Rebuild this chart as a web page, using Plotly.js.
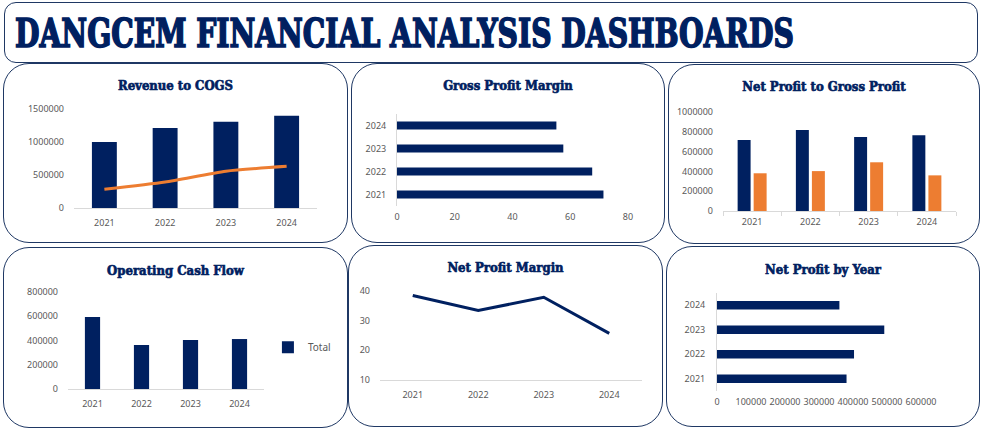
<!DOCTYPE html>
<html>
<head>
<meta charset="utf-8">
<script src="https://cdn.plot.ly/plotly-3.0.1.min.js"></script>
<style>
  body { margin: 0; background: #fff; width: 987px; height: 435px; overflow: hidden; position: relative; }
  .box { position: absolute; box-sizing: border-box; border: 1.5px solid #1f3864; border-radius: 26px; background: #fff; }
  .plot { position: absolute; }
  #head { border-radius: 12px; }
  #headText { position: absolute; left: 15px; top: 9px; font-family: 'DejaVu Serif Condensed', 'DejaVu Serif', serif; font-weight: bold; font-size: 40px; line-height: 48px; color: #002060; -webkit-text-stroke: 1.6px #002060; white-space: nowrap; transform-origin: 0 0; }
  .gtitle { stroke: #002060; stroke-width: 0.6px; }
</style>
</head>
<body>
<div class="box" id="head" style="left:4px;top:2px;width:974px;height:61px;"></div>
<div id="headText">DANGCEM FINANCIAL ANALYSIS DASHBOARDS</div>

<div class="box" style="left:3px;top:63px;width:345px;height:180px;"></div>
<div class="box" style="left:351px;top:63px;width:314px;height:180px;"></div>
<div class="box" style="left:668px;top:64px;width:312px;height:180px;"></div>
<div class="box" style="left:3px;top:247px;width:345px;height:181px;"></div>
<div class="box" style="left:348px;top:245px;width:315px;height:182px;"></div>
<div class="box" style="left:666px;top:246px;width:314px;height:181px;"></div>

<div class="plot" id="revenue" style="left:3px;top:63px;width:345px;height:180px;"></div>
<div class="plot" id="gross" style="left:351px;top:63px;width:314px;height:180px;"></div>
<div class="plot" id="netgross" style="left:668px;top:64px;width:312px;height:180px;"></div>
<div class="plot" id="cash" style="left:3px;top:247px;width:345px;height:181px;"></div>
<div class="plot" id="margin" style="left:348px;top:245px;width:315px;height:182px;"></div>
<div class="plot" id="netyear" style="left:666px;top:246px;width:314px;height:181px;"></div>

<script>
// values
var years = ['2021', '2022', '2023', '2024'];
var revenue = [1000000, 1213000, 1305000, 1397000];
var cogs = [284000, 394000, 558000, 631000];
var grossProfit = [716000, 817000, 747000, 766000];
var netProfit = [381000, 403000, 492000, 360000];
var grossMargin = [71.5, 67.6, 57.6, 55.2];
var netMargin = [38.5, 33.4, 37.9, 25.7];
var cashFlow = [593000, 363000, 404000, 412000];

var navy = '#002060';
var orange = '#ed7d31';
var tickFont = {family: 'Noto Sans, sans-serif', size: 9, color: '#595959'};
var config = {staticPlot: true, displayModeBar: false};

// fit the big heading to its width in the reference
var head = document.getElementById('headText');
head.style.transform = 'scaleX(' + (779 / head.offsetWidth) + ')';

function title(text, y) {
  return {
    text: text, x: 0.5, xanchor: 'center', y: y, yanchor: 'middle', yref: 'container',
    font: {family: 'DejaVu Serif Condensed, DejaVu Serif, serif', weight: 'bold', size: 13, color: navy}
  };
}

function base(t, margin) {
  return {
    title: t,
    margin: margin,
    paper_bgcolor: 'rgba(0,0,0,0)',
    plot_bgcolor: 'rgba(0,0,0,0)',
    showlegend: false,
    font: tickFont
  };
}

/***** revenue to cogs *****/
var layout = base(title('Revenue to COGS', 0.874), {l: 71, r: 31, t: 46, b: 35});
layout.bargap = 0.59;
layout.xaxis = {type: 'category', showline: true, linecolor: '#d9d9d9', linewidth: 1, ticks: '', showgrid: false, tickfont: tickFont, ticklabelstandoff: 6};
layout.yaxis = {range: [0, 1500000], dtick: 500000, showgrid: false, zeroline: false, showline: false, tickformat: 'd', tickfont: tickFont, ticklabelstandoff: 9};
Plotly.newPlot('revenue', [
  {x: years, y: revenue, type: 'bar', name: 'Revenue', marker: {color: navy}},
  {x: years, y: cogs, type: 'scatter', mode: 'lines', name: 'COGS', line: {color: orange, width: 3, shape: 'spline', smoothing: 0.6}}
], layout, config);

/***** gross profit margin *****/
layout = base(title('Gross Profit Margin', 0.878), {l: 46, r: 37, t: 51, b: 37});
layout.bargap = 0.65;
layout.xaxis = {range: [0, 80], dtick: 20, showgrid: false, zeroline: false, showline: false, tickfont: tickFont, ticklabelstandoff: 4};
layout.yaxis = {type: 'category', showline: true, linecolor: '#d9d9d9', linewidth: 1, ticks: '', showgrid: false, tickfont: tickFont, ticklabelstandoff: 8};
Plotly.newPlot('gross', [
  {x: grossMargin, y: years, type: 'bar', orientation: 'h', marker: {color: navy}}
], layout, config);

/***** net profit to gross profit *****/
layout = base(title('Net Profit to Gross Profit', 0.874), {l: 55, r: 24, t: 48, b: 33});
layout.bargap = 0.45;
layout.bargroupgap = 0.19;
layout.barmode = 'group';
layout.xaxis = {type: 'category', showline: true, linecolor: '#d9d9d9', linewidth: 1, ticks: 'outside', tickson: 'boundaries', ticklen: 4, tickcolor: '#d9d9d9', showgrid: false, tickfont: tickFont, ticklabelstandoff: 2};
layout.yaxis = {range: [0, 1000000], dtick: 200000, showgrid: false, zeroline: false, showline: false, tickformat: 'd', tickfont: tickFont, ticklabelstandoff: 9};
Plotly.newPlot('netgross', [
  {x: years, y: grossProfit, type: 'bar', name: 'Gross Profit', marker: {color: navy}},
  {x: years, y: netProfit, type: 'bar', name: 'Net Profit', marker: {color: orange}}
], layout, config);

/***** operating cash flow *****/
layout = base(title('Operating Cash Flow', 0.873), {l: 65, r: 75, t: 45, b: 39});
layout.bargap = 0.69;
layout.showlegend = true;
layout.legend = {x: 1.02, xanchor: 'left', y: 0.43, yanchor: 'middle', font: {family: 'Noto Sans, sans-serif', size: 10, color: '#595959'}, itemwidth: 30};
layout.xaxis = {type: 'category', showline: true, linecolor: '#d9d9d9', linewidth: 1, ticks: '', showgrid: false, tickfont: tickFont, ticklabelstandoff: 6};
layout.yaxis = {range: [0, 800000], dtick: 200000, showgrid: false, zeroline: false, showline: false, tickformat: 'd', tickfont: tickFont, ticklabelstandoff: 9};
Plotly.newPlot('cash', [
  {x: years, y: cashFlow, type: 'bar', name: 'Total', marker: {color: navy}}
], layout, config);

/***** net profit margin *****/
layout = base(title('Net Profit Margin', 0.875), {l: 32, r: 21, t: 46, b: 47});
layout.xaxis = {type: 'category', range: [-0.5, 3.5], showline: true, linecolor: '#d9d9d9', linewidth: 1, ticks: '', showgrid: false, tickfont: tickFont, ticklabelstandoff: 6};
layout.yaxis = {range: [10, 40], dtick: 10, showgrid: false, zeroline: false, showline: false, tickfont: tickFont, ticklabelstandoff: 9};
Plotly.newPlot('margin', [
  {x: years, y: netMargin, type: 'scatter', mode: 'lines', line: {color: navy, width: 3}}
], layout, config);

/***** net profit by year *****/
layout = base(title('Net Profit by Year', 0.873), {l: 51, r: 59, t: 47, b: 36});
layout.bargap = 0.65;
layout.xaxis = {range: [0, 600000], dtick: 100000, showgrid: false, zeroline: false, showline: false, tickformat: 'd', tickfont: tickFont, ticklabelstandoff: 4};
layout.yaxis = {type: 'category', showline: true, linecolor: '#d9d9d9', linewidth: 1, ticks: '', showgrid: false, tickfont: tickFont, ticklabelstandoff: 9};
Plotly.newPlot('netyear', [
  {x: netProfit, y: years, type: 'bar', orientation: 'h', marker: {color: navy}}
], layout, config);
</script>
</body>
</html>
